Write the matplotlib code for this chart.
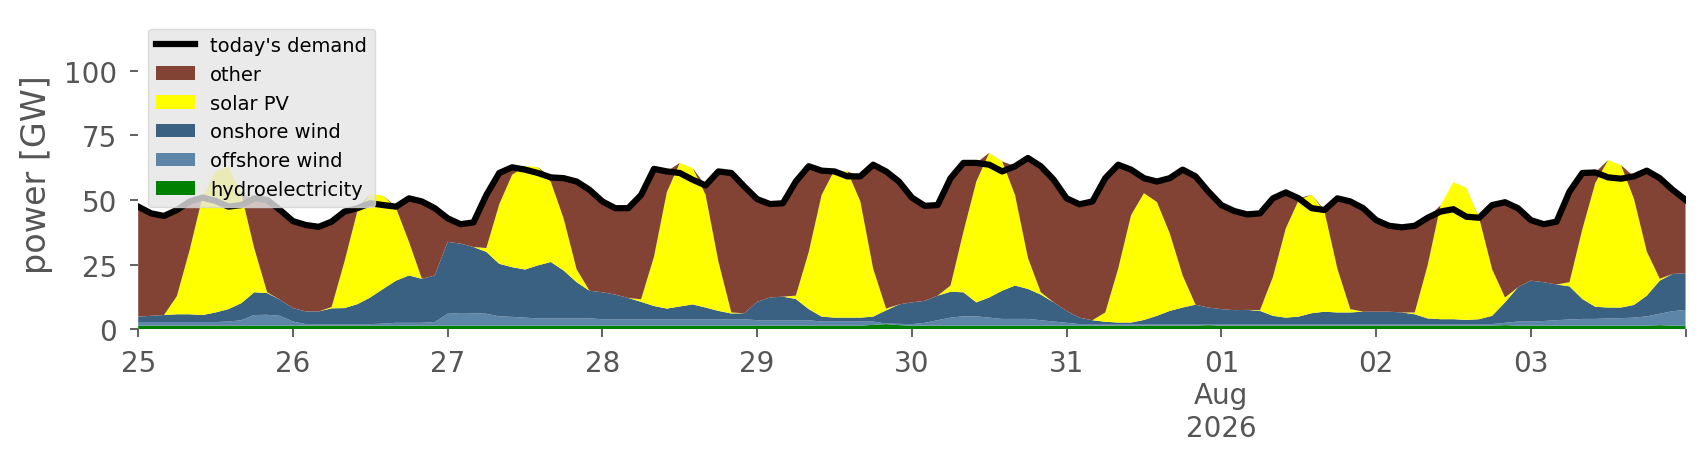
import matplotlib
matplotlib.use("Agg")
import matplotlib.pyplot as plt
import pandas as pd

# two-hourly samples, 25 Jul 00:00 .. 04 Aug 00:00 (GW)
times = pd.date_range("2026-07-25 00:00", "2026-08-04 00:00", freq="2h").to_pydatetime()

demand = [
    47.4, 44.8, 43.8, 46.1, 49.4, 50.9, 49.6, 47.4, 48.0, 50.6, 50.0, 46.1,
    41.8, 40.3, 39.6, 41.6, 45.5, 46.8, 48.7, 48.0, 47.4, 50.6, 49.4, 46.8,
    42.9, 40.6, 41.3, 51.9, 60.4, 62.6, 61.7, 60.4, 58.7, 58.4, 57.1, 53.9,
    49.4, 46.8, 46.8, 51.9, 62.0, 61.0, 60.4, 57.8, 55.6, 61.0, 60.4, 55.2,
    50.3, 48.4, 48.7, 57.1, 63.0, 61.3, 61.0, 59.1, 59.1, 63.6, 61.0, 57.1,
    50.9, 47.7, 48.0, 58.4, 64.3, 64.3, 63.6, 61.0, 63.0, 66.2, 63.0, 57.8,
    50.6, 48.3, 49.4, 58.4, 63.6, 61.7, 58.4, 57.1, 58.4, 61.7, 59.1, 53.2,
    48.0, 45.7, 44.4, 44.8, 50.6, 52.9, 50.6, 46.8, 46.1, 50.6, 49.4, 46.8,
    42.2, 40.0, 39.4, 40.0, 43.1, 45.5, 46.4, 43.5, 43.1, 48.0, 49.1, 46.8,
    42.2, 40.6, 41.6, 53.2, 60.4, 60.6, 58.7, 58.2, 59.1, 61.3, 58.4, 53.9,
    50.0,
]

other = [
    42.5, 39.6, 38.3, 33.3, 18.6, 0, 0, 0, 0, 19.3, 35.7, 34.7,
    33.6, 33.4, 32.7, 33.0, 19.3, 1.1, 0, 0, 0.6, 16.8, 29.9, 26.0,
    9.1, 7.5, 9.5, 20.5, 12.1, 2.9, 0, 0, 1.7, 15.7, 33.9, 39.0,
    35.1, 33.4, 34.7, 40.3, 34.0, 8.0, 0, 0, 3.6, 34.9, 53.9, 49.0,
    39.7, 36.1, 36.1, 44.1, 33.2, 9.4, 0, 0, 9.6, 40.2, 53.2, 47.6,
    40.5, 36.7, 35.0, 41.5, 26.6, 7.2, 0, 0, 11.1, 38.6, 48.7, 47.4,
    43.5, 43.8, 45.9, 51.9, 40.2, 17.6, 5.8, 7.9, 21.3, 40.9, 49.6, 44.8,
    40.2, 38.3, 36.9, 37.4, 30.4, 13.9, 0.7, 0, 0.6, 27.2, 41.6, 40.0,
    35.4, 33.2, 32.9, 33.5, 18.4, 0, 0, 0, 0.2, 24.8, 36.8, 30.6,
    23.4, 22.4, 24.3, 35.0, 21.7, 4.1, 0, 0, 8.7, 31.3, 38.9, 32.5,
    28.3,
]

solar = [
    0, 0, 0, 7.0, 25.0, 46.0, 54.5, 55.0, 42.0, 17.0, 0.3, 0,
    0, 0, 0, 0.5, 18.0, 36.0, 40.0, 36.0, 28.0, 13.0, 0, 0,
    0, 0, 0, 1.5, 23.0, 35.7, 40.0, 38.0, 31.0, 20.0, 5.0, 0,
    0, 0, 0, 1.0, 19.0, 45.0, 55.5, 52.7, 43.6, 19.0, 0.4, 0,
    0, 0, 0, 1.3, 22.0, 47.0, 57.0, 56.5, 45.0, 18.5, 0.7, 0,
    0, 0, 0, 2.4, 23.4, 46.7, 55.9, 50.0, 35.0, 12.0, 0.9, 0,
    0, 0, 0, 3.6, 20.8, 41.5, 49.0, 44.0, 30.0, 12.4, 0, 0,
    0, 0, 0, 0.3, 15.0, 34.5, 45.0, 45.8, 38.7, 16.9, 1.3, 0,
    0, 0, 0, 0.7, 20.5, 44.0, 53.0, 51.0, 39.0, 18.0, 1.9, 0,
    0, 0, 0, 1.6, 27.0, 47.8, 57.0, 55.0, 41.0, 17.0, 0.7, 0,
    0,
]

onshore = [
    2.1, 2.4, 2.7, 3.0, 3.0, 2.7, 3.7, 4.8, 6.6, 8.8, 8.4, 6.2,
    5.2, 4.9, 4.9, 6.1, 6.2, 7.7, 10.3, 13.4, 16.3, 18.3, 17.0, 18.0,
    27.8, 26.8, 25.6, 23.9, 20.3, 19.2, 18.6, 20.5, 21.8, 18.5, 14.0, 10.7,
    10.4, 9.5, 8.2, 6.7, 5.1, 4.1, 4.9, 5.7, 4.5, 3.2, 2.2, 2.3,
    7.1, 8.8, 9.1, 8.2, 4.3, 1.9, 1.5, 1.5, 1.5, 1.9, 5.1, 7.5,
    8.4, 8.5, 9.5, 10.0, 9.3, 5.4, 7.8, 10.9, 12.9, 11.6, 9.9, 7.4,
    4.6, 2.5, 1.5, 0.9, 0.6, 0.6, 1.6, 3.2, 5.1, 6.4, 7.5, 6.4,
    5.8, 5.4, 5.5, 5.1, 3.2, 2.5, 2.9, 4.2, 4.8, 4.5, 4.5, 4.8,
    4.8, 4.8, 4.5, 3.8, 2.2, 1.9, 1.9, 1.6, 1.9, 3.2, 7.9, 13.2,
    15.8, 15.0, 13.8, 12.8, 7.7, 4.7, 4.2, 4.1, 4.9, 8.0, 12.8, 14.4,
    14.2,
]

offshore = [
    1.4, 1.4, 1.4, 1.4, 1.4, 1.4, 1.4, 1.6, 2.1, 4.1, 4.2, 3.8,
    1.6, 0.6, 0.6, 0.6, 0.6, 0.6, 0.6, 0.8, 1.1, 1.1, 1.1, 1.4,
    4.6, 4.9, 4.8, 4.6, 3.6, 3.4, 3.1, 2.8, 2.8, 2.8, 2.8, 2.8,
    2.5, 2.5, 2.5, 2.5, 2.5, 2.5, 2.5, 2.5, 2.5, 2.5, 2.5, 2.5,
    2.1, 2.1, 2.1, 2.1, 2.1, 1.6, 1.6, 1.6, 1.6, 1.3, 0.2, 0.5,
    0.6, 1.1, 2.1, 3.1, 3.6, 3.6, 3.1, 2.6, 2.6, 2.6, 2.1, 1.6,
    1.1, 0.6, 0.6, 0.6, 0.6, 0.6, 0.6, 0.6, 0.6, 0.6, 0.6, 0.4,
    0.6, 0.6, 0.6, 0.6, 0.6, 0.6, 0.6, 0.6, 0.6, 0.6, 0.6, 0.6,
    0.6, 0.6, 0.6, 0.6, 0.6, 0.6, 0.6, 0.6, 0.6, 0.6, 0.9, 1.6,
    1.6, 1.8, 2.1, 2.4, 2.6, 2.6, 2.8, 2.9, 3.1, 3.6, 4.4, 5.6,
    6.1,
]

hydro = [
    1.4, 1.4, 1.4, 1.4, 1.4, 1.4, 1.4, 1.4, 1.4, 1.4, 1.4, 1.4,
    1.4, 1.4, 1.4, 1.4, 1.4, 1.4, 1.4, 1.4, 1.4, 1.4, 1.4, 1.4,
    1.4, 1.4, 1.4, 1.4, 1.4, 1.4, 1.4, 1.4, 1.4, 1.4, 1.4, 1.4,
    1.4, 1.4, 1.4, 1.4, 1.4, 1.4, 1.4, 1.4, 1.4, 1.4, 1.4, 1.4,
    1.4, 1.4, 1.4, 1.4, 1.4, 1.4, 1.4, 1.4, 1.4, 1.7, 2.0, 1.6,
    1.4, 1.4, 1.4, 1.4, 1.4, 1.4, 1.4, 1.4, 1.4, 1.4, 1.4, 1.4,
    1.4, 1.4, 1.4, 1.4, 1.4, 1.4, 1.4, 1.4, 1.4, 1.4, 1.4, 1.6,
    1.4, 1.4, 1.4, 1.4, 1.4, 1.4, 1.4, 1.4, 1.4, 1.4, 1.4, 1.4,
    1.4, 1.4, 1.4, 1.4, 1.4, 1.4, 1.4, 1.4, 1.4, 1.4, 1.6, 1.4,
    1.4, 1.4, 1.4, 1.4, 1.4, 1.4, 1.4, 1.4, 1.4, 1.4, 1.6, 1.4,
    1.4,
]

tick_days = pd.date_range("2026-07-25", "2026-08-04", freq="D").to_pydatetime()
tick_labels = ["25", "26", "27", "28", "29", "30", "31", "01\nAug\n2026", "02", "03", ""]

stack_labels = ["hydroelectricity", "offshore wind", "onshore wind", "solar PV", "other"]
stack_colors = ["#008000", "#5D85A8", "#3B6182", "#FFFF00", "#834334"]

fig, ax = plt.subplots(figsize=(17.06, 4.6), dpi=100)
fig.subplots_adjust(left=0.081, right=0.988, bottom=0.282, top=0.957)

polys = ax.stackplot(times, hydro, offshore, onshore, solar, other,
                     colors=stack_colors, labels=stack_labels, linewidth=0)
line, = ax.plot(times, demand, color="black", lw=4.5, label="today's demand",
                solid_joinstyle="round")

ax.set_xlim(times[0], times[-1])
ax.set_ylim(0, 120)
ax.set_yticks([0, 25, 50, 75, 100])
ax.set_xticks(tick_days)
ax.set_xticklabels(tick_labels)
for s in ax.spines.values():
    s.set_visible(False)
ax.tick_params(colors="#555555", labelsize=20, length=6, width=1.3)
ax.tick_params(axis="x", pad=8)
ax.tick_params(axis="y", pad=9)
ax.set_ylabel("power [GW]", fontsize=24, color="#555555", labelpad=8)

ax.legend(handles=[line] + polys[::-1], loc="upper left", fontsize=14,
          facecolor="#E5E5E5", framealpha=0.8, edgecolor="#D5D5D5",
          handlelength=2.0)

fig.savefig("out.png")
